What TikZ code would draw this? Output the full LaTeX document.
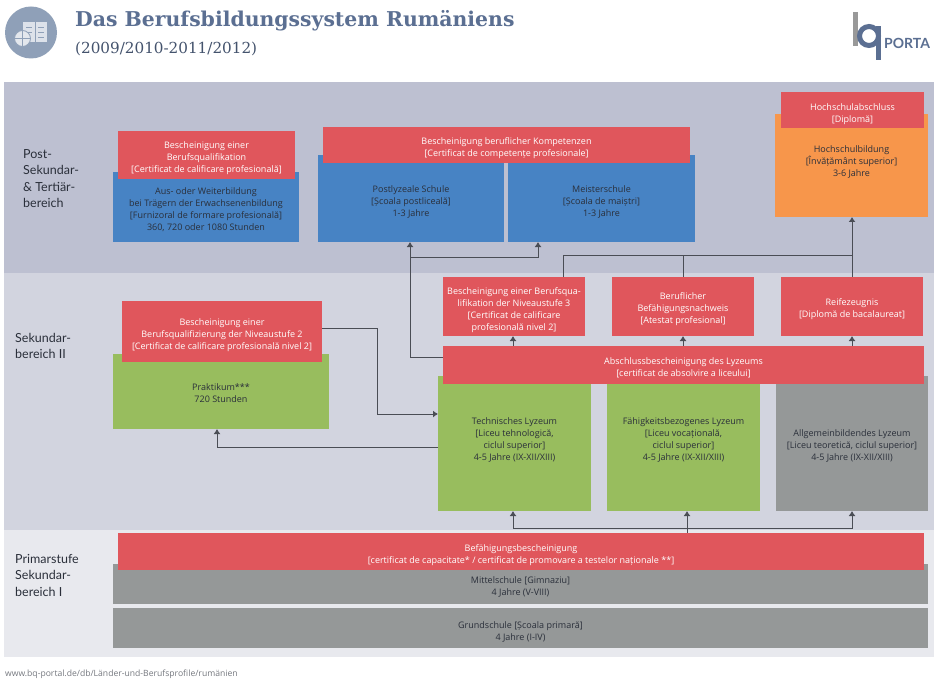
\documentclass[tikz,border=0pt]{standalone}
\usepackage{fontspec}
\usetikzlibrary{arrows.meta}
\setmainfont{Open Sans}
\newfontfamily\titlefont{DejaVu Serif}
\newfontfamily\labelfont{Lato}
\definecolor{bandA}{HTML}{BDC0D1}
\definecolor{bandB}{HTML}{D2D4DF}
\definecolor{bandC}{HTML}{E8E9EE}
\definecolor{cred}{HTML}{E0565C}
\definecolor{cblue}{HTML}{4783C4}
\definecolor{cgreen}{HTML}{98BD5E}
\definecolor{cgray}{HTML}{959898}
\definecolor{corange}{HTML}{F7964B}
\definecolor{ctitle}{HTML}{5B6F92}
\definecolor{cicon}{HTML}{8FA0B8}
\definecolor{cline}{HTML}{4A4D55}
\definecolor{ctext}{HTML}{2A2F3A}
\tikzset{
  x=1pt,y=-1pt,
  boxbase/.style={anchor=north west,inner sep=0pt,outer sep=0pt,align=center,font=\fontsize{9}{12}\selectfont},
  redbox/.style={boxbase,fill=cred,text=white},
  bluebox/.style={boxbase,fill=cblue,text=ctext},
  greenbox/.style={boxbase,fill=cgreen,text=ctext},
  graybox/.style={boxbase,fill=cgray,text=ctext},
  orangebox/.style={boxbase,fill=corange,text=ctext},
  conn/.style={draw=cline,line width=0.9pt},
  arr/.style={conn,-{Latex[length=5pt,width=7pt]}},
  blabel/.style={anchor=north west,align=left,text=ctext,inner sep=0pt,font=\labelfont\fontsize{12.5}{16.5}\selectfont},
}
% style, name, x0, x1, y0, y1, downward text shift, lines
\newcommand{\bx}[8]{\node[#1,minimum width=#4-#3,minimum height=#6-#5] (#2) at (#3,#5)
  {\raisebox{\dimexpr-1.9pt-#7pt\relax}[0pt][0pt]{\begin{tabular}[c]{@{}c@{}}#8\end{tabular}}};}
\begin{document}
\begin{tikzpicture}
\useasboundingbox (0,0) rectangle (934,679);
\fill[white] (0,0) rectangle (934,679);
\fill[bandA] (4,82) rectangle (934,273);
\fill[bandB] (4,273) rectangle (934,530);
\fill[bandC] (4,530) rectangle (934,657);
% header icon
\fill[cicon] (31,32.5) circle[radius=26];
\fill[white!70!cicon] (23,22) rectangle (47,42);
\draw[cicon,line width=0.8pt] (35,22) -- (35,42) (26,27) -- (32,27) (26,32) -- (32,32) (38,27) -- (44,27) (38,32) -- (44,32) (38,37) -- (44,37);
\fill[white!75!cicon,draw=cicon,line width=0.8pt] (22.5,38.5) circle[radius=8];
\draw[cicon,line width=0.7pt] (14.5,38.5) -- (30.5,38.5) (22.5,30.5) -- (22.5,46.5);
\node[anchor=west,inner sep=0pt,text=ctitle,font=\titlefont\bfseries\fontsize{20.4}{22}\selectfont] (title) at (75,21) {Das Berufsbildungssystem Rumäniens};
\node[anchor=west,inner sep=0pt,text=ctitle!75!black,font=\titlefont\fontsize{15.2}{17}\selectfont] (sub) at (75,49) {(2009/2010-2011/2012)};
% logo
\fill[gray!80] (853,12) rectangle (858,46);
\draw[ctitle,line width=5pt] (869,36) circle[radius=9.5];
\fill[ctitle] (876,26) rectangle (881,60);
\node[anchor=west,inner sep=0pt,text=ctitle,font=\labelfont\bfseries\fontsize{14}{16}\selectfont] (porta) at (884,43) {PORTA};
% level labels
\node[blabel] (l1) at (23,149) {Post-\\Sekundar-\\\& Tertiär-\\bereich};
\node[blabel] (l2) at (15,333) {Sekundar-\\bereich II};
\node[blabel] (l3) at (15,554) {Primarstufe\\Sekundar-\\bereich I};
% post-secondary
\bx{bluebox}{aus}{113}{299}{172}{242}{3}{Aus- oder Weiterbildung\\bei Trägern der Erwachsenenbildung\\{[Furnizoral de formare profesională]}\\360, 720 oder 1080 Stunden}
\bx{redbox}{ausr}{118}{295}{131}{179}{3}{Bescheinigung einer\\Berufsqualifikation\\{[Certificat de calificare profesională]}}
\bx{bluebox}{post}{318}{504}{155}{242}{3.5}{Postlyzeale Schule\\{[Școala postliceală]}\\1-3 Jahre}
\bx{bluebox}{meis}{508}{695}{155}{242}{3.5}{Meisterschule\\{[Școala de maiștri]}\\1-3 Jahre}
\bx{redbox}{komp}{323}{690}{127}{163}{3}{Bescheinigung beruflicher Kompetenzen\\{[Certificat de competențe profesionale]}}
\bx{orangebox}{hoch}{775}{928}{114}{217}{-3.5}{Hochschulbildung\\{[Învățământ superior]}\\3-6 Jahre}
\bx{redbox}{hochr}{781}{924}{92}{128}{4}{Hochschulabschluss\\{[Diplomă]}}
% secondary II
\bx{greenbox}{prak}{113}{329}{354}{429}{2.5}{Praktikum***\\720 Stunden}
\bx{redbox}{prakr}{122}{322}{301}{362}{3.5}{Bescheinigung einer\\Berufsqualifizierung der Niveaustufe 2\\{[Certificat de calificare profesională nivel 2]}}
\bx{redbox}{niv}{443}{585}{277}{336}{3.5}{Bescheinigung einer Berufsqua-\\lifikation der Niveaustufe 3\\{[Certificat de calificare}\\profesională nivel 2]}
\bx{redbox}{bef}{612}{754}{277}{336}{2.5}{Beruflicher\\Befähigungsnachweis\\{[Atestat profesional]}}
\bx{redbox}{reif}{781}{923}{277}{336}{2.5}{Reifezeugnis\\{[Diplomă de bacalaureat]}}
\bx{greenbox}{tech}{438}{591}{376}{511}{-3.5}{Technisches Lyzeum\\{[Liceu tehnologică,}\\ciclul superior]\\4-5 Jahre (IX-XII/XIII)}
\bx{greenbox}{fae}{607}{760}{376}{511}{-3.5}{Fähigkeitsbezogenes Lyzeum\\{[Liceu vocațională,}\\ciclul superior]\\4-5 Jahre (IX-XII/XIII)}
\bx{graybox}{allg}{776}{928}{376}{511}{2.5}{Allgemeinbildendes Lyzeum\\{[Liceu teoretică, ciclul superior]}\\4-5 Jahre (IX-XII/XIII)}
\bx{redbox}{absch}{443}{924}{346}{384}{3}{Abschlussbescheinigung des Lyzeums\\{[certificat de absolvire a liceului]}}
% primary / lower secondary
\bx{graybox}{mitt}{113}{928}{564}{604}{3}{Mittelschule [Gimnaziu]\\4 Jahre (V-VIII)}
\bx{graybox}{grund}{113}{928}{608}{648}{4.5}{Grundschule [Școala primară]\\4 Jahre (I-IV)}
\bx{redbox}{bef2}{118}{924}{533}{570}{4}{Befähigungsbescheinigung\\{[certificat de capacitate* / certificat de promovare a testelor naționale **]}}
% footer
\node[anchor=west,inner sep=0pt,text=ctext!65,font=\fontsize{8.6}{10}\selectfont] (foot) at (5,674) {www.bq-portal.de/db/Länder-und-Berufsprofile/rumänien};
% connectors
\coordinate (j1) at (410,257);
\coordinate (j2) at (683,255);
\coordinate (j3) at (563,255);
\coordinate (j4) at (852,255);
\coordinate (j5) at (687,528);
\draw[arr] (absch.west |- 0,357) -| (post.south -| j1);
\draw[arr] (j1) -| (538,242);
\draw[conn] (j3 |- niv.north) -- (j3) -- (j4);
\draw[conn] (j2) -- (j2 |- bef.north);
\draw[conn] (j4) -- (j4 |- reif.north);
\draw[arr] (j4) -- (j4 |- hoch.south);
\draw[arr] (513,346) -- (513,336);
\draw[arr] (683,346) -- (683,336);
\draw[arr] (852,346) -- (852,336);
\draw[arr] (prakr.east |- 0,328) -- (377,328) |- (tech.west |- 0,414);
\draw[arr] (tech.west |- 0,447) -| (217,429);
\draw[conn] (j5) -- (j5 |- bef2.north);
\draw[arr] (j5) -| (513,511);
\draw[arr] (j5) -- (687,511);
\draw[arr] (j5) -| (852,511);
\end{tikzpicture}
\end{document}
